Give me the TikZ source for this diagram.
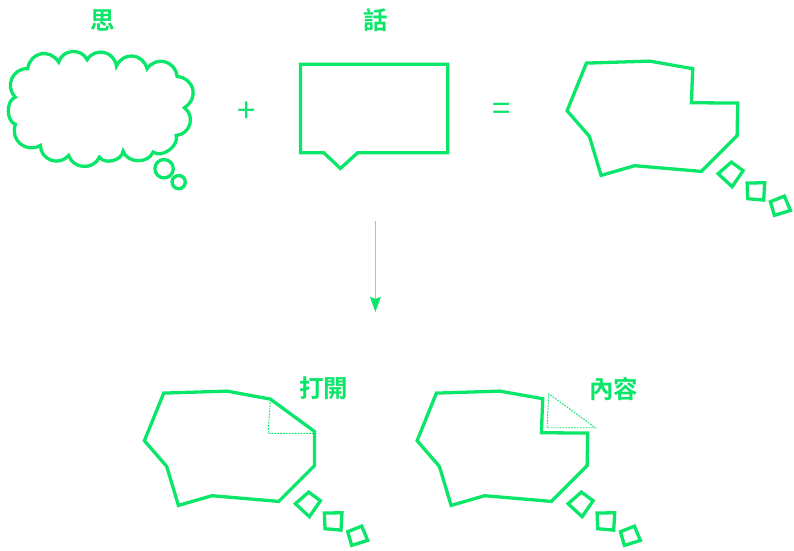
\documentclass[tikz,border=0pt]{standalone}
\usepackage{fontspec}
\newfontfamily\cjk[BoldFont={Noto Sans CJK TC Bold}]{Noto Sans CJK TC}
\usetikzlibrary{arrows.meta}
\definecolor{gr}{RGB}{10,230,105}
\tikzset{
  outline/.style={draw=gr,line width=3.3pt,miter limit=10},
  hint/.style={draw=gr,line width=0.9pt,dash pattern=on 1.8pt off 1.1pt},
  label/.style={text=gr,font=\cjk\bfseries\fontsize{24.5}{26}\selectfont,inner sep=0pt},
  oper/.style={text=gr,font=\cjk\fontsize{33}{35}\selectfont,inner sep=0pt},
  flow/.style={draw=gr!65,line width=1.3pt},
}
\begin{document}
\begin{tikzpicture}[x=1pt,y=-1pt]
\useasboundingbox (-0.4,-0.4) rectangle (793.6,549.6);
% titles
\node[label] (think) at (102.5,20) {思};
\node[label] (say) at (375,20) {話};
\node[label] (open) at (323.5,388) {打開};
\node[label] (content) at (613.5,389) {內容};
\node[oper] (plus) at (246,112) {+};
\node[oper] (equal) at (501.5,111) {=};
% cloud
\draw[outline] (27.3,68.3)
 to[bend left=70,looseness=1.35] (58.3,61.7)
 to[bend left=70,looseness=1.2] (86.7,59.3)
 to[bend left=70,looseness=1.3] (116,65.7)
 to[bend left=70,looseness=1.35] (146.7,68.3)
 to[bend left=70,looseness=1.3] (176.7,76)
 to[bend left=70,looseness=1.4] (184,107.3)
 to[bend left=70,looseness=1.25] (175.7,135)
 to[bend left=70,looseness=1.0] (152.7,151.7)
 to[bend left=70,looseness=1.1] (122.7,150.7)
 to[bend left=70,looseness=1.0] (99,156.7)
 to[bend left=70,looseness=1.2] (68.3,155)
 to[bend left=70,looseness=1.25] (40,145)
 to[bend left=70,looseness=1.3] (15,124)
 to[bend left=70,looseness=.95] (15,96.7)
 to[bend left=70,looseness=1.25] cycle;
\draw[outline] (163.7,168.3) circle[radius=9.2];
\draw[outline] (178.3,181.7) circle[radius=6.6];
% speech box
\draw[outline] (300,63.8) -- (447.3,63.8) -- (447.3,152.3) -- (357.3,152.3) -- (340,168) -- (323.3,152.3) -- (300,152.3) -- cycle;
% result thought
\draw[outline] (586,62.7) -- (649.3,60.7) -- (692.3,68.3) -- (691,102.3) -- (737.3,102.7) -- (736.7,135.3) -- (701,171) -- (634.3,165.3) -- (600.7,175) -- (589,136) -- (566.7,110.3) -- cycle;
\draw[outline] (731,161.7) -- (742.7,170.3) -- (731.7,186.3) -- (717.7,173.3) -- cycle;
\draw[outline] (746.7,182.7) -- (764.3,182.3) -- (763.3,199.7) -- (747.3,198.3) -- cycle;
\draw[outline] (770,201.3) -- (784,195.7) -- (790,210) -- (774,215) -- cycle;
% arrow
\coordinate (from) at (375,221);
\coordinate (to) at (375,299);
\coordinate (tip) at (375,311.5);
\draw[flow] (from) -- (to);
\fill[gr] (tip) -- (369.5,296.5) -- (375,298.5) -- (380.5,296.5) -- cycle;
% open
\begin{scope}[shift={(-422.7,330)}]
\draw[outline] (586,62.7) -- (649.3,60.7) -- (692.7,68.7) -- (736.7,101) -- (736.7,135.3) -- (701,171) -- (634.3,165.3) -- (600.7,175) -- (589,136) -- (566.7,110.3) -- cycle;
\draw[hint] (692.7,68.7) -- (690.4,103) -- (736.7,103);
\draw[outline] (731,161.7) -- (742.7,170.3) -- (731.7,186.3) -- (717.7,173.3) -- cycle;
\draw[outline] (746.7,182.7) -- (764.3,182.3) -- (763.3,199.7) -- (747.3,198.3) -- cycle;
\draw[outline] (770,201.3) -- (784,195.7) -- (790,210) -- (774,215) -- cycle;
\end{scope}
% content
\begin{scope}[shift={(-150,330)}]
\draw[outline] (586,62.7) -- (649.3,60.7) -- (692.3,68.3) -- (691,102.3) -- (737.3,102.7) -- (736.7,135.3) -- (701,171) -- (634.3,165.3) -- (600.7,175) -- (589,136) -- (566.7,110.3) -- cycle;
\draw[hint] (698.3,63.3) -- (696.7,97.3) -- (745,97.3) -- cycle;
\draw[outline] (731,161.7) -- (742.7,170.3) -- (731.7,186.3) -- (717.7,173.3) -- cycle;
\draw[outline] (746.7,182.7) -- (764.3,182.3) -- (763.3,199.7) -- (747.3,198.3) -- cycle;
\draw[outline] (770,201.3) -- (784,195.7) -- (790,210) -- (774,215) -- cycle;
\end{scope}
\end{tikzpicture}
\end{document}
